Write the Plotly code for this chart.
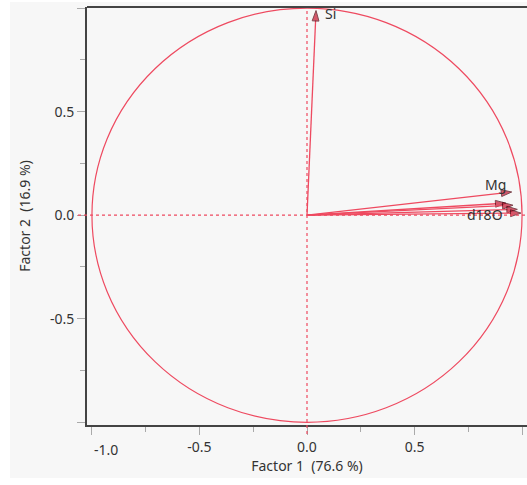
import plotly.graph_objects as go

# Loadings (Factor 1, Factor 2)
variables = ["Si", "Mg", "", "d18O", "", ""]
factor1 = [0.042, 0.952, 0.925, 0.958, 0.978, 0.995]
factor2 = [0.988, 0.112, 0.058, 0.048, 0.028, 0.010]

x_tickvals = [-1.0, -0.5, 0.0, 0.5, 1.0]
x_ticktext = ["", "-0.5", "0.0", "0.5", "1.0"]
y_tickvals = [-1.0, -0.5, 0.0, 0.5, 1.0]
y_ticktext = ["", "-0.5", "0.0", "0.5", ""]
minor_vals = [-0.75, -0.25, 0.25, 0.75]

RED = "#ee4a60"
MARK = "#c8142f"
FONT = "Noto Sans"
TXT = "#333333"

# label placement (style only): anchor and pixel shift per label
label_style = {
    "Si": dict(xanchor="left", yanchor="middle", xshift=7, yshift=-3),
    "Mg": dict(xanchor="right", yanchor="middle", xshift=-4, yshift=7),
    "d18O": dict(xanchor="right", yanchor="middle", xshift=-8, yshift=-9),
}

fig = go.Figure()
for name, fx, fy in zip(variables, factor1, factor2):
    fig.add_trace(go.Scatter(
        x=[0, fx], y=[0, fy],
        mode="lines+markers",
        line=dict(color=RED, width=1.3),
        marker=dict(symbol="arrow", angleref="previous", size=[0, 11],
                    color=MARK, line=dict(color="#4a000c", width=1)),
        showlegend=False, hoverinfo="skip",
    ))

annotations = []
for name, fx, fy in zip(variables, factor1, factor2):
    if name:
        annotations.append(dict(x=fx, y=fy, xref="x", yref="y", text=name,
                                showarrow=False,
                                font=dict(family=FONT, size=14, color=TXT),
                                **label_style[name]))

W, H = 527, 485
L, R, T, B = 87, 0, 7, 60
pw, ph = W - L - R, H - T - B
def px_x(p):
    return (p - L) / pw
def px_y(p):
    return (H - B - p) / ph

shapes = [
    dict(type="rect", xref="paper", yref="paper", layer="below",
         x0=px_x(10), x1=px_x(W + 5), y0=px_y(478), y1=px_y(2),
         fillcolor="#f7f7f7", line=dict(width=0)),
    dict(type="circle", xref="x", yref="y", x0=-1, x1=1, y0=-1, y1=1,
         line=dict(color=RED, width=1.2), layer="below"),
    dict(type="line", xref="x", yref="paper", x0=0, x1=0, y0=px_y(434), y1=1,
         line=dict(color=RED, width=1.2, dash="dot")),
    dict(type="line", xref="paper", yref="y", x0=px_x(78), x1=1, y0=0, y1=0,
         line=dict(color=RED, width=1.2, dash="dot")),
    dict(type="line", xref="paper", yref="paper", x0=0, x1=1.01, y0=1, y1=1,
         line=dict(color="#444444", width=2)),
]

annotations.append(dict(x=-1.0, y=0, xref="x", yref="paper", yshift=-13,
                        text="-1.0", showarrow=False, xanchor="left", yanchor="top",
                        font=dict(family=FONT, size=14, color=TXT)))

fig.update_layout(
    width=W, height=H,
    margin=dict(l=L, r=R, t=T, b=B),
    paper_bgcolor="white", plot_bgcolor="white",
    font=dict(family=FONT, size=14, color=TXT),
    shapes=shapes,
    annotations=annotations,
    xaxis=dict(range=[-1.023, 1.023], showgrid=False, zeroline=False,
               showline=True, linecolor="#444444", linewidth=2,
               ticks="outside", ticklen=8, tickcolor="#aaaaaa",
               tickvals=x_tickvals, ticktext=x_ticktext,
               minor=dict(tickvals=minor_vals, ticks="outside", ticklen=5, tickcolor="#aaaaaa"),
               title=dict(text="Factor 1  (76.6 %)", standoff=4,
                          font=dict(family=FONT, size=14, color=TXT))),
    yaxis=dict(range=[-1.013, 1.005], showgrid=False, zeroline=False,
               showline=True, linecolor="#444444", linewidth=2,
               ticks="outside", ticklen=8, tickcolor="#aaaaaa",
               tickvals=y_tickvals, ticktext=y_ticktext,
               minor=dict(tickvals=minor_vals, ticks="outside", ticklen=5, tickcolor="#aaaaaa"),
               title=dict(text="Factor 2  (16.9 %)", standoff=16,
                          font=dict(family=FONT, size=14, color=TXT))),
)

fig.write_html("out.html")
